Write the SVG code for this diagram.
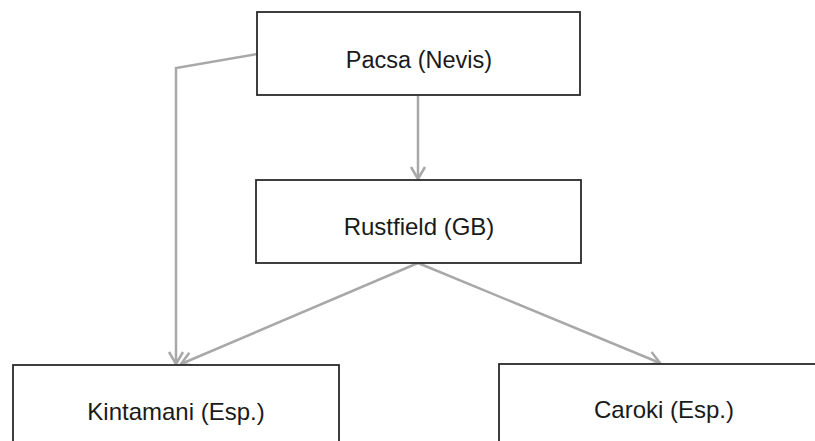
<svg xmlns="http://www.w3.org/2000/svg" width="815" height="441" viewBox="0 0 815 441">
<defs>
<style>
.box{fill:#fff;stroke:#2a2a2a;stroke-width:1.8}
.lbl{font-family:"Liberation Sans",Arial,sans-serif;font-size:24px;fill:#1a1a1a;text-anchor:middle}
.conn{fill:none;stroke:#a8a8a8;stroke-width:2.5}
</style>
<marker id="arr" markerUnits="userSpaceOnUse" markerWidth="20" markerHeight="20" viewBox="0 0 20 20" refX="14" refY="10" orient="auto">
<path d="M2,3 L14,10 L2,17" fill="none" stroke="#a8a8a8" stroke-width="2.5"/>
</marker>
</defs>
<rect width="815" height="441" fill="#fff"/>
<g id="connectors">
<path class="conn" d="M257,54 L176,68 L176,364" marker-end="url(#arr)"/>
<path class="conn" d="M418,96 L418,179" marker-end="url(#arr)"/>
<path class="conn" d="M418,263 L181,364" marker-end="url(#arr)"/>
<path class="conn" d="M418,263 L660,363" marker-end="url(#arr)"/>
</g>
<g id="pacsa">
<rect class="box" x="257" y="12" width="323" height="83"/>
<text class="lbl" x="419" y="68" style="font-size:23.5px">Pacsa (Nevis)</text>
</g>
<g id="rustfield">
<rect class="box" x="256" y="180" width="325" height="83"/>
<text class="lbl" x="419" y="235">Rustfield (GB)</text>
</g>
<g id="kintamani">
<rect class="box" x="13" y="365" width="326" height="90"/>
<text class="lbl" x="176" y="420">Kintamani (Esp.)</text>
</g>
<g id="caroki">
<rect class="box" x="499" y="364" width="340" height="90"/>
<text class="lbl" x="664" y="418">Caroki (Esp.)</text>
</g>
</svg>
